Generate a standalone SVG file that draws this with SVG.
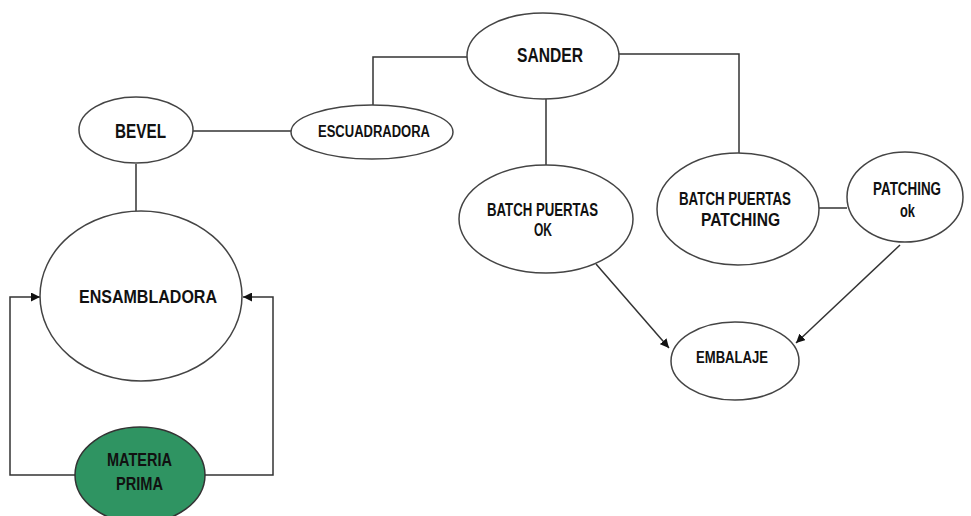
<svg xmlns="http://www.w3.org/2000/svg" width="971" height="516" viewBox="0 0 971 516">
<style>
.n{fill:#fff;stroke:#444;stroke-width:1.5}
.g{fill:#2f9462;stroke:#333;stroke-width:1.5}
.c{fill:none;stroke:#333;stroke-width:1.5}
text{font-family:"Liberation Sans",Arial,sans-serif;font-weight:bold;fill:#111;text-anchor:start}
</style>
<defs>
<marker id="ah" viewBox="0 0 10 10" refX="10" refY="5" markerWidth="9" markerHeight="9" markerUnits="userSpaceOnUse" orient="auto">
<path d="M0,0 L10,5 L0,10 Z" fill="#111"/>
</marker>
</defs>
<rect width="971" height="516" fill="#fff"/>
<g id="connectors">
<line class="c" x1="192" y1="131" x2="291" y2="131"/>
<line class="c" x1="136" y1="164" x2="136" y2="211"/>
<polyline class="c" points="373,105 373,57 469,57"/>
<polyline class="c" points="618,54 739,54 739,154"/>
<line class="c" x1="546" y1="99" x2="546" y2="165"/>
<line class="c" x1="819" y1="208" x2="847" y2="208"/>
<line class="c" x1="596" y1="264" x2="669" y2="348" marker-end="url(#ah)"/>
<line class="c" x1="900" y1="245" x2="796" y2="343" marker-end="url(#ah)"/>
<polyline class="c" points="75,475 10,475 10,297 40,297" marker-end="url(#ah)"/>
<polyline class="c" points="205,475 273,475 273,297 243,297" marker-end="url(#ah)"/>
</g>
<g id="bevel">
<ellipse class="n" cx="136" cy="130" rx="57" ry="33"/>
<text x="115" y="138" font-size="21" textLength="51" lengthAdjust="spacingAndGlyphs">BEVEL</text>
</g>
<g id="escuadradora">
<ellipse class="n" cx="372" cy="132" rx="81" ry="27"/>
<text x="318" y="137" font-size="16" textLength="112" lengthAdjust="spacingAndGlyphs">ESCUADRADORA</text>
</g>
<g id="sander">
<ellipse class="n" cx="543" cy="56" rx="76" ry="43"/>
<text x="517" y="62" font-size="21" textLength="66" lengthAdjust="spacingAndGlyphs">SANDER</text>
</g>
<g id="batch-ok">
<ellipse class="n" cx="546" cy="219" rx="87" ry="54"/>
<text x="487" y="216" font-size="18" textLength="111" lengthAdjust="spacingAndGlyphs">BATCH PUERTAS</text>
<text x="534" y="236" font-size="18" textLength="18" lengthAdjust="spacingAndGlyphs">OK</text>
</g>
<g id="batch-patching">
<ellipse class="n" cx="738" cy="209" rx="81" ry="56"/>
<text x="679" y="205" font-size="18" textLength="112" lengthAdjust="spacingAndGlyphs">BATCH PUERTAS</text>
<text x="701" y="226" font-size="18" textLength="79" lengthAdjust="spacingAndGlyphs">PATCHING</text>
</g>
<g id="patching-ok">
<ellipse class="n" cx="905" cy="197" rx="58" ry="45"/>
<text x="873" y="195" font-size="18" textLength="68" lengthAdjust="spacingAndGlyphs">PATCHING</text>
<text x="900" y="217" font-size="18" textLength="15" lengthAdjust="spacingAndGlyphs">ok</text>
</g>
<g id="embalaje">
<ellipse class="n" cx="735" cy="361" rx="64" ry="39"/>
<text x="696" y="363" font-size="17" textLength="72" lengthAdjust="spacingAndGlyphs">EMBALAJE</text>
</g>
<g id="ensambladora">
<ellipse class="n" cx="141" cy="296" rx="101" ry="85"/>
<text x="79" y="303" font-size="18" textLength="138" lengthAdjust="spacingAndGlyphs">ENSAMBLADORA</text>
</g>
<g id="materia-prima">
<ellipse class="g" cx="140" cy="475" rx="65" ry="48"/>
<text x="107" y="466" font-size="18" textLength="65" lengthAdjust="spacingAndGlyphs">MATERIA</text>
<text x="116" y="490" font-size="18" textLength="47" lengthAdjust="spacingAndGlyphs">PRIMA</text>
</g>
</svg>
